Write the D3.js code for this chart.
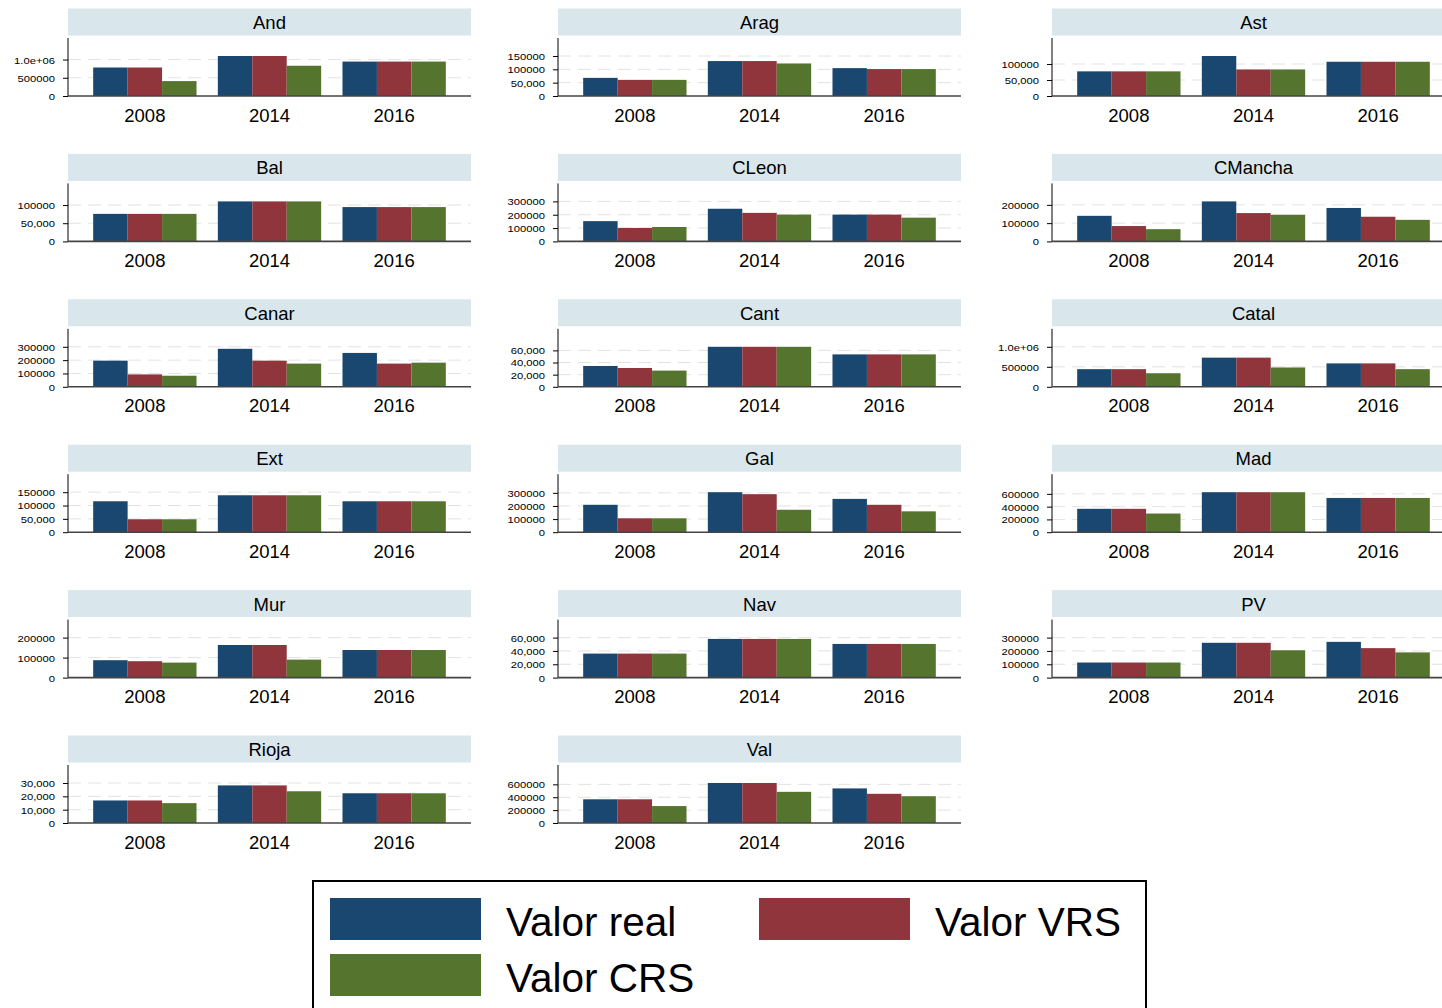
<!DOCTYPE html>
<html>
<head>
<meta charset="utf-8">
<script src="https://cdn.jsdelivr.net/npm/d3@7"></script>
<style>
  html, body { margin: 0; padding: 0; background: #ffffff; }
  svg { display: block; }
  text { font-family: "Liberation Sans", Arial, sans-serif; fill: #000; }
</style>
</head>
<body>
<svg id="chart" width="1442" height="1008"></svg>
<script>
// Regions (panels), years (bar groups) and series
const regions = ["And", "Arag", "Ast", "Bal", "CLeon", "CMancha", "Canar", "Cant", "Catal",
                 "Ext", "Gal", "Mad", "Mur", "Nav", "PV", "Rioja", "Val"];
const years = ["2008", "2014", "2016"];
const seriesNames = ["Valor real", "Valor VRS", "Valor CRS"];
const seriesColors = ["#1a476f", "#90353b", "#55752f"];

// Values per region, one entry per year
const valorReal = [
  [782000, 1098000, 945000], [68000, 131000, 104500], [77000, 125000, 107000],
  [75700, 110000, 94400], [152000, 245000, 201000], [140000, 219000, 183000],
  [196000, 285000, 254000], [34300, 65900, 53400], [441000, 729000, 585000],
  [116000, 138500, 116000], [209000, 305000, 254000], [366000, 626000, 536000],
  [87000, 163000, 138000], [36000, 58000, 50500], [113000, 261000, 268000],
  [16900, 28200, 22300], [368000, 621000, 537000]
];
const valorVRS = [
  [782000, 1098000, 945000], [60500, 131000, 101000], [77000, 83000, 107000],
  [75700, 110000, 94400], [101000, 214000, 201000], [84000, 155000, 135000],
  [93000, 196000, 174000], [31000, 65900, 53400], [441000, 729000, 585000],
  [48500, 138500, 116000], [106000, 290000, 209000], [366000, 626000, 536000],
  [82000, 163000, 138000], [36000, 58000, 50500], [113000, 261000, 221000],
  [16900, 28200, 22300], [368000, 621000, 453000]
];
const valorCRS = [
  [409000, 830000, 945000], [60500, 122000, 101000], [77000, 83000, 107000],
  [75700, 110000, 94400], [108000, 201000, 178000], [67000, 146000, 118000],
  [83000, 174000, 181000], [26700, 65900, 53400], [339000, 483000, 441000],
  [48500, 138500, 116000], [106000, 171000, 159000], [292000, 626000, 536000],
  [75000, 90000, 138000], [36000, 58000, 50500], [113000, 205000, 189000],
  [14900, 23800, 22300], [263000, 484000, 416000]
];

// Y-axis tick values and their printed labels, per region
const tickValues = [
  [0, 500000, 1000000], [0, 50000, 100000, 150000], [0, 50000, 100000],
  [0, 50000, 100000], [0, 100000, 200000, 300000], [0, 100000, 200000],
  [0, 100000, 200000, 300000], [0, 20000, 40000, 60000], [0, 500000, 1000000],
  [0, 50000, 100000, 150000], [0, 100000, 200000, 300000], [0, 200000, 400000, 600000],
  [0, 100000, 200000], [0, 20000, 40000, 60000], [0, 100000, 200000, 300000],
  [0, 10000, 20000, 30000], [0, 200000, 400000, 600000]
];
const tickLabels = [
  ["0", "500000", "1.0e+06"], ["0", "50,000", "100000", "150000"], ["0", "50,000", "100000"],
  ["0", "50,000", "100000"], ["0", "100000", "200000", "300000"], ["0", "100000", "200000"],
  ["0", "100000", "200000", "300000"], ["0", "20,000", "40,000", "60,000"], ["0", "500000", "1.0e+06"],
  ["0", "50,000", "100000", "150000"], ["0", "100000", "200000", "300000"], ["0", "200000", "400000", "600000"],
  ["0", "100000", "200000"], ["0", "20,000", "40,000", "60,000"], ["0", "100000", "200000", "300000"],
  ["0", "10,000", "20,000", "30,000"], ["0", "200000", "400000", "600000"]
];

// Layout
const svg = d3.select("#chart");
const colX = [68, 558, 1052];
const panelW = 403;
const rowTop0 = 8.5, rowPitch = 145.4;
const stripH = 27;
const baseOffset = 87.5;   // strip top -> x-axis baseline
const scaleSpan = 40;      // px used by the value range
const plotSpan = 58;       // px from baseline to plot-region top

const x = d3.scaleBand().domain(years).range([0, panelW]).paddingInner(0.171).paddingOuter(0.202);
const xs = d3.scaleBand().domain(d3.range(3)).range([0, x.bandwidth()]);

regions.forEach((name, i) => {
  const col = i % 3, row = Math.floor(i / 3);
  const x0 = colX[col];
  const top = rowTop0 + row * rowPitch;
  const base = top + baseOffset;
  const series = [valorReal[i], valorVRS[i], valorCRS[i]];
  const ticks = tickValues[i];
  const maxV = d3.max([...series.flat(), ...ticks]);
  const y = d3.scaleLinear().domain([0, maxV]).range([base, base - scaleSpan]);

  const g = svg.append("g");

  // strip title
  g.append("rect").attr("x", x0).attr("y", top).attr("width", panelW).attr("height", stripH)
    .attr("fill", "#d9e6eb");
  g.append("text").attr("x", x0 + panelW / 2).attr("y", top + 20.5)
    .attr("text-anchor", "middle").attr("font-size", "18.5px").text(name);

  // gridlines
  g.selectAll(".grid").data(ticks.filter(t => t > 0)).join("line")
    .attr("x1", x0).attr("x2", x0 + panelW)
    .attr("y1", d => y(d)).attr("y2", d => y(d))
    .attr("stroke", "#e2e2e2").attr("stroke-width", 1).attr("stroke-dasharray", "13,7");

  // bars
  years.forEach((yr, j) => {
    series.forEach((vals, s) => {
      g.append("rect")
        .attr("x", x0 + x(yr) + xs(s))
        .attr("y", y(vals[j]))
        .attr("width", xs.bandwidth())
        .attr("height", base - y(vals[j]))
        .attr("fill", seriesColors[s]);
    });
  });

  // y axis
  const yAxis = d3.axisLeft(y).tickValues(ticks).tickSize(5).tickPadding(8)
    .tickFormat((d, k) => tickLabels[i][k]);
  const ax = g.append("g").attr("transform", `translate(${x0},0)`).call(yAxis);
  ax.select(".domain").remove();
  ax.selectAll(".tick line").attr("stroke", "#000");
  ax.selectAll(".tick text")
    .attr("font-size", "9.6px")
    .attr("font-family", "Liberation Sans, Arial, sans-serif")
    .attr("fill", "#000")
    .attr("dy", "0.36em")
    .attr("transform", function () {
      const tx = +d3.select(this).attr("x");
      return `translate(${tx},0) scale(1.17,1) translate(${-tx},0)`;
    });
  g.append("line").attr("x1", x0).attr("x2", x0).attr("y1", base - plotSpan).attr("y2", base)
    .attr("stroke", "#000").attr("stroke-width", 1);

  // x axis baseline and year labels
  g.append("line").attr("x1", x0).attr("x2", x0 + panelW).attr("y1", base).attr("y2", base)
    .attr("stroke", "#444").attr("stroke-width", 1.6);
  g.selectAll(".yr").data(years).join("text")
    .attr("x", d => x0 + x(d) + x.bandwidth() / 2)
    .attr("y", base + 25.5)
    .attr("text-anchor", "middle").attr("font-size", "18.5px")
    .text(d => d);
});

// legend
const lg = svg.append("g");
lg.append("rect").attr("x", 313).attr("y", 881).attr("width", 833).attr("height", 140)
  .attr("fill", "#fff").attr("stroke", "#000").attr("stroke-width", 2);
const legendPos = [[330, 898], [759, 898], [330, 954]];
seriesNames.forEach((nm, s) => {
  const [lx, ly] = legendPos[s];
  lg.append("rect").attr("x", lx).attr("y", ly).attr("width", 151).attr("height", 42)
    .attr("fill", seriesColors[s]);
  lg.append("text").attr("x", lx + 176).attr("y", ly + 37.5)
    .attr("font-size", "40.5px").text(nm);
});
</script>
</body>
</html>
